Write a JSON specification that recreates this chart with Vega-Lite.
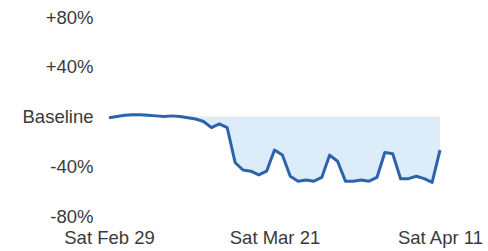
{
  "$schema": "https://vega.github.io/schema/vega-lite/v6.json",
  "width": 331,
  "height": 199,
  "padding": {"left": 22, "top": 8, "right": 2, "bottom": 2},
  "background": "white",
  "config": {
    "view": {"stroke": null},
    "font": "Liberation Sans",
    "axis": {"labelFont": "Liberation Sans", "labelFontSize": 18.5, "labelColor": "#3a3a3a", "domain": false, "ticks": false, "grid": false, "title": null}
  },
  "data": {
    "values": [
      {"date": "2020-02-29", "change": -1},
      {"date": "2020-03-01", "change": 0},
      {"date": "2020-03-02", "change": 1},
      {"date": "2020-03-03", "change": 1.5},
      {"date": "2020-03-04", "change": 1.5},
      {"date": "2020-03-05", "change": 1},
      {"date": "2020-03-06", "change": 0.5},
      {"date": "2020-03-07", "change": 0},
      {"date": "2020-03-08", "change": 0.5},
      {"date": "2020-03-09", "change": 0},
      {"date": "2020-03-10", "change": -1},
      {"date": "2020-03-11", "change": -2},
      {"date": "2020-03-12", "change": -4},
      {"date": "2020-03-13", "change": -9},
      {"date": "2020-03-14", "change": -6},
      {"date": "2020-03-15", "change": -9},
      {"date": "2020-03-16", "change": -37},
      {"date": "2020-03-17", "change": -43},
      {"date": "2020-03-18", "change": -44},
      {"date": "2020-03-19", "change": -47},
      {"date": "2020-03-20", "change": -44},
      {"date": "2020-03-21", "change": -27},
      {"date": "2020-03-22", "change": -31},
      {"date": "2020-03-23", "change": -48},
      {"date": "2020-03-24", "change": -52},
      {"date": "2020-03-25", "change": -51},
      {"date": "2020-03-26", "change": -52},
      {"date": "2020-03-27", "change": -49},
      {"date": "2020-03-28", "change": -31},
      {"date": "2020-03-29", "change": -36},
      {"date": "2020-03-30", "change": -52},
      {"date": "2020-03-31", "change": -52},
      {"date": "2020-04-01", "change": -51},
      {"date": "2020-04-02", "change": -52},
      {"date": "2020-04-03", "change": -49},
      {"date": "2020-04-04", "change": -29},
      {"date": "2020-04-05", "change": -30},
      {"date": "2020-04-06", "change": -50},
      {"date": "2020-04-07", "change": -50},
      {"date": "2020-04-08", "change": -48},
      {"date": "2020-04-09", "change": -50},
      {"date": "2020-04-10", "change": -53},
      {"date": "2020-04-11", "change": -27}
    ]
  },
  "encoding": {
    "x": {
      "field": "date",
      "type": "temporal",
      "scale": {"type": "utc", "nice": false},
      "axis": {
        "values": [
          {"year": 2020, "month": 2, "date": 29, "utc": true},
          {"year": 2020, "month": 3, "date": 21, "utc": true},
          {"year": 2020, "month": 4, "date": 11, "utc": true}
        ],
        "format": "%a %b %d",
        "labelFlush": false,
        "labelPadding": 12,
        "labelOverlap": false
      }
    },
    "y": {
      "field": "change",
      "type": "quantitative",
      "scale": {"domain": [-80, 80], "nice": false, "zero": false},
      "axis": {
        "values": [-80, -40, 0, 40, 80],
        "labelExpr": "datum.value == 0 ? 'Baseline' : (datum.value > 0 ? '+' : '') + datum.value + '%'",
        "labelPadding": 16,
        "labelFlush": false
      }
    }
  },
  "layer": [
    {
      "mark": {"type": "area", "color": "#dcecf8", "opacity": 1},
      "encoding": {"y2": {"datum": 0}}
    },
    {
      "mark": {"type": "line", "color": "#2d63ac", "strokeWidth": 3, "strokeJoin": "round"}
    }
  ]
}
